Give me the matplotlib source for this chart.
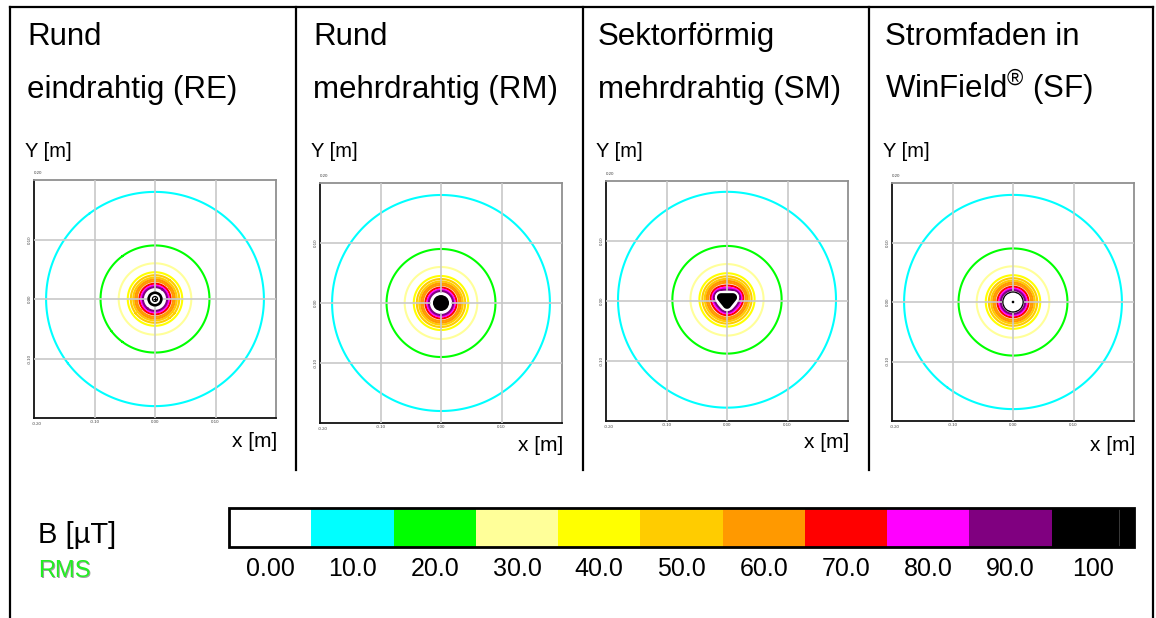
import numpy as np
import matplotlib
matplotlib.use("Agg")
import matplotlib.pyplot as plt
from matplotlib.colors import ListedColormap, BoundaryNorm
from matplotlib.patches import Circle, Polygon
from matplotlib.lines import Line2D
from matplotlib.path import Path
import matplotlib.cm as cm

plt.rcParams['font.family'] = ['Liberation Sans', 'DejaVu Sans']
plt.rcParams['mathtext.fontset'] = 'custom'
plt.rcParams['mathtext.rm'] = 'Liberation Sans'

# ---------------- data ----------------
title_line1 = ["Rund", "Rund", "Sektorförmig", "Stromfaden in"]
title_line2 = ["eindrahtig (RE)", "mehrdrahtig (RM)", "mehrdrahtig (SM)",
               r"WinField$^{\mathrm{®}}$ (SF)"]
y_label = "Y [m]"
x_label = "x [m]"

axis_limits = [-0.20, 0.20]
grid_ticks = [-0.10, 0.00, 0.10]
x_tick_labels = ["-0.10", "0.00", "0.10"]
y_tick_labels = ["-0.10", "0.00", "0.10"]
corner_top_label = "0.20"
corner_bottom_label = "-0.20"

field_coeff = 1.8          # B [µT] = coeff / r[m]  (10 µT at r = 0.18 m)
contour_levels = [10, 20, 30, 40, 45, 50, 55, 60, 70, 80, 90]

cbar_values = [0, 10, 20, 30, 40, 50, 60, 70, 80, 90, 100]
cbar_labels = ["0.00", "10.0", "20.0", "30.0", "40.0", "50.0", "60.0",
               "70.0", "80.0", "90.0", "100"]
cbar_colors = ["#ffffff", "#00ffff", "#00ff00", "#ffff99", "#ffff00",
               "#ffcc00", "#ff9900", "#ff0000", "#ff00ff", "#800080", "#000000"]
cbar_title = "B [µT]"
cbar_sub = "RMS"

# conductor geometry (m)
re_core_r, re_hole_r, re_ring_r = 0.0127, 0.0083, 0.0042
rm_disc_r = 0.0150
sm_vertices_x = [-0.0095, 0.0095, 0.0000]
sm_vertices_y = [0.0060, 0.0060, -0.0060]
sm_round_r = 0.0088
sf_ring_outer, sf_ring_inner, sf_dot_r = 0.0178, 0.0157, 0.0022

# ---------------- layout ----------------
W, H = 1156, 618
fig = plt.figure(figsize=(W / 100, H / 100), dpi=100)


def fx(x):
    return x / W


def fy(y):
    return 1 - y / H


# axes boxes in pixels (left, top, right, bottom)
ax_boxes = [(34, 180, 276, 418), (320, 183, 562, 423),
            (606, 181, 848, 421), (892, 183, 1134, 421)]
title_x = [27, 313, 598, 885]
xlabel_base = [447, 451, 448, 451]

# frame lines
lw_frame = 1.6
frame = [((10, 1153), (7, 7)), ((10, 10), (7, 618)), ((1153, 1153), (7, 618)),
         ((296, 296), (7, 470)), ((583, 583), (7, 470)), ((869, 869), (7, 470))]
for xs, ys in frame:
    fig.add_artist(Line2D([fx(xs[0]), fx(xs[1])], [fy(ys[0]), fy(ys[1])],
                          color="black", lw=lw_frame, transform=fig.transFigure))

cmap = ListedColormap(cbar_colors)
bounds = [v - 5 for v in cbar_values] + [cbar_values[-1] + 5]
norm = BoundaryNorm(bounds, cmap.N)

n = 801
g = np.linspace(axis_limits[0], axis_limits[1], n)
X, Y = np.meshgrid(g, g)
R = np.hypot(X, Y)


def rounded_polygon(vx, vy, rr, m=40):
    pts = []
    for x0, y0 in zip(vx, vy):
        t = np.linspace(0, 2 * np.pi, m, endpoint=False)
        pts += list(zip(x0 + rr * np.cos(t), y0 + rr * np.sin(t)))
    pts = sorted(set(pts))

    def cross(o, a, b):
        return (a[0] - o[0]) * (b[1] - o[1]) - (a[1] - o[1]) * (b[0] - o[0])
    lower, upper = [], []
    for p in pts:
        while len(lower) >= 2 and cross(lower[-2], lower[-1], p) <= 0:
            lower.pop()
        lower.append(p)
    for p in reversed(pts):
        while len(upper) >= 2 and cross(upper[-2], upper[-1], p) <= 0:
            upper.pop()
        upper.append(p)
    return np.array(lower[:-1] + upper[:-1])


sm_poly = rounded_polygon(sm_vertices_x, sm_vertices_y, sm_round_r)
sm_path = Path(sm_poly)

for i, (l, t, r, b) in enumerate(ax_boxes):
    ax = fig.add_axes([fx(l), fy(b), (r - l) / W, (b - t) / H])
    ax.set_xlim(axis_limits)
    ax.set_ylim(axis_limits)

    if i == 2:
        # distributed current in sector conductor
        fg = np.arange(-0.03, 0.03, 0.0015)
        FX, FY = np.meshgrid(fg, fg)
        inside = sm_path.contains_points(np.c_[FX.ravel(), FY.ravel()])
        px, py = FX.ravel()[inside], FY.ravel()[inside]
        k = field_coeff / len(px)
        Bx = np.zeros_like(X)
        By = np.zeros_like(X)
        for xi, yi in zip(px, py):
            dx, dy = X - xi, Y - yi
            r2 = np.maximum(dx * dx + dy * dy, 1e-8)
            Bx += -k * dy / r2
            By += k * dx / r2
        B = np.hypot(Bx, By)
        mask = sm_path.contains_points(np.c_[X.ravel(), Y.ravel()]).reshape(X.shape)
        B = np.where(mask, np.nan, B)
    else:
        B = field_coeff / np.maximum(R, 1e-6)
        B = np.where(R < 0.012, np.nan, B)

    ax.contour(X, Y, B, levels=contour_levels, cmap=cmap, norm=norm,
               linewidths=1.5, zorder=2)

    ax.set_axisbelow(False)
    ax.set_xticks(grid_ticks)
    ax.set_yticks(grid_ticks)
    ax.grid(True, color="#c8c8c8", lw=1.2)
    ax.set_xticklabels(x_tick_labels)
    ax.set_yticklabels(y_tick_labels, rotation=90, va="center")
    ax.tick_params(length=0, labelsize=3.2, labelcolor="#444444", pad=1.5)
    for s in ["left", "bottom"]:
        ax.spines[s].set_color("#111111")
        ax.spines[s].set_linewidth(1.3)
    for s in ["top", "right"]:
        ax.spines[s].set_color("#909090")
        ax.spines[s].set_linewidth(1.3)
    ax.text(0.0, 1.02, corner_top_label, transform=ax.transAxes, fontsize=3.2,
            color="#444444", ha="left", va="bottom")
    ax.text(-0.01, -0.015, corner_bottom_label, transform=ax.transAxes,
            fontsize=3.2, color="#444444", ha="left", va="top")

    if i == 0:
        ax.add_patch(Circle((0, 0), re_core_r, fc="black", ec="none", zorder=5))
        ax.add_patch(Circle((0, 0), re_hole_r, fc="white", ec="none", zorder=6))
        ax.add_patch(Circle((0, 0), re_ring_r, fc="none", ec="black", lw=0.9, zorder=7))
        ax.plot([0], [0], marker="+", ms=3, mew=0.8, color="black", zorder=8)
    elif i == 1:
        ax.add_patch(Circle((0, 0), rm_disc_r, fc="black", ec="white", lw=1.5, zorder=5))
    elif i == 2:
        ax.add_patch(Polygon(sm_poly, closed=True, fc="black", ec="white", lw=1.5, zorder=5))
    else:
        ax.add_patch(Circle((0, 0), sf_ring_outer, fc="black", ec="none", zorder=5))
        ax.add_patch(Circle((0, 0), sf_ring_inner, fc="white", ec="none", zorder=6))
        ax.add_patch(Circle((0, 0), sf_dot_r, fc="black", ec="none", zorder=7))

    fig.text(fx(title_x[i]), fy(45), title_line1[i], fontsize=22.5, va="baseline")
    fig.text(fx(title_x[i]), fy(98), title_line2[i], fontsize=22.5, va="baseline")
    fig.text(fx(title_x[i] - 2), fy(157), y_label, fontsize=14.5, va="baseline")
    fig.text(fx(r + 1), fy(xlabel_base[i]), x_label, fontsize=15, va="baseline",
             ha="right")

# ---------------- colour bar ----------------
cax = fig.add_axes([fx(229), fy(547), (1134 - 229) / W, (547 - 508) / H])
sm = cm.ScalarMappable(norm=norm, cmap=cmap)
cb = fig.colorbar(sm, cax=cax, orientation="horizontal", ticks=cbar_values)
cb.ax.minorticks_off()
cb.ax.set_xticklabels(cbar_labels, fontsize=18)
cb.ax.tick_params(which="both", length=0, pad=7.5)
cb.outline.set_linewidth(2)
cb.outline.set_edgecolor("black")
cax.axvline(103.2, color="#444444", lw=0.6)

fig.text(fx(38), fy(543), cbar_title, fontsize=21, va="baseline")
fig.text(fx(39.5), fy(578.5), cbar_sub, fontsize=17, va="baseline", color="#a0a0a0")
fig.text(fx(38), fy(577), cbar_sub, fontsize=17, va="baseline", color="#22ee22")

fig.savefig("out.png", dpi=100)
